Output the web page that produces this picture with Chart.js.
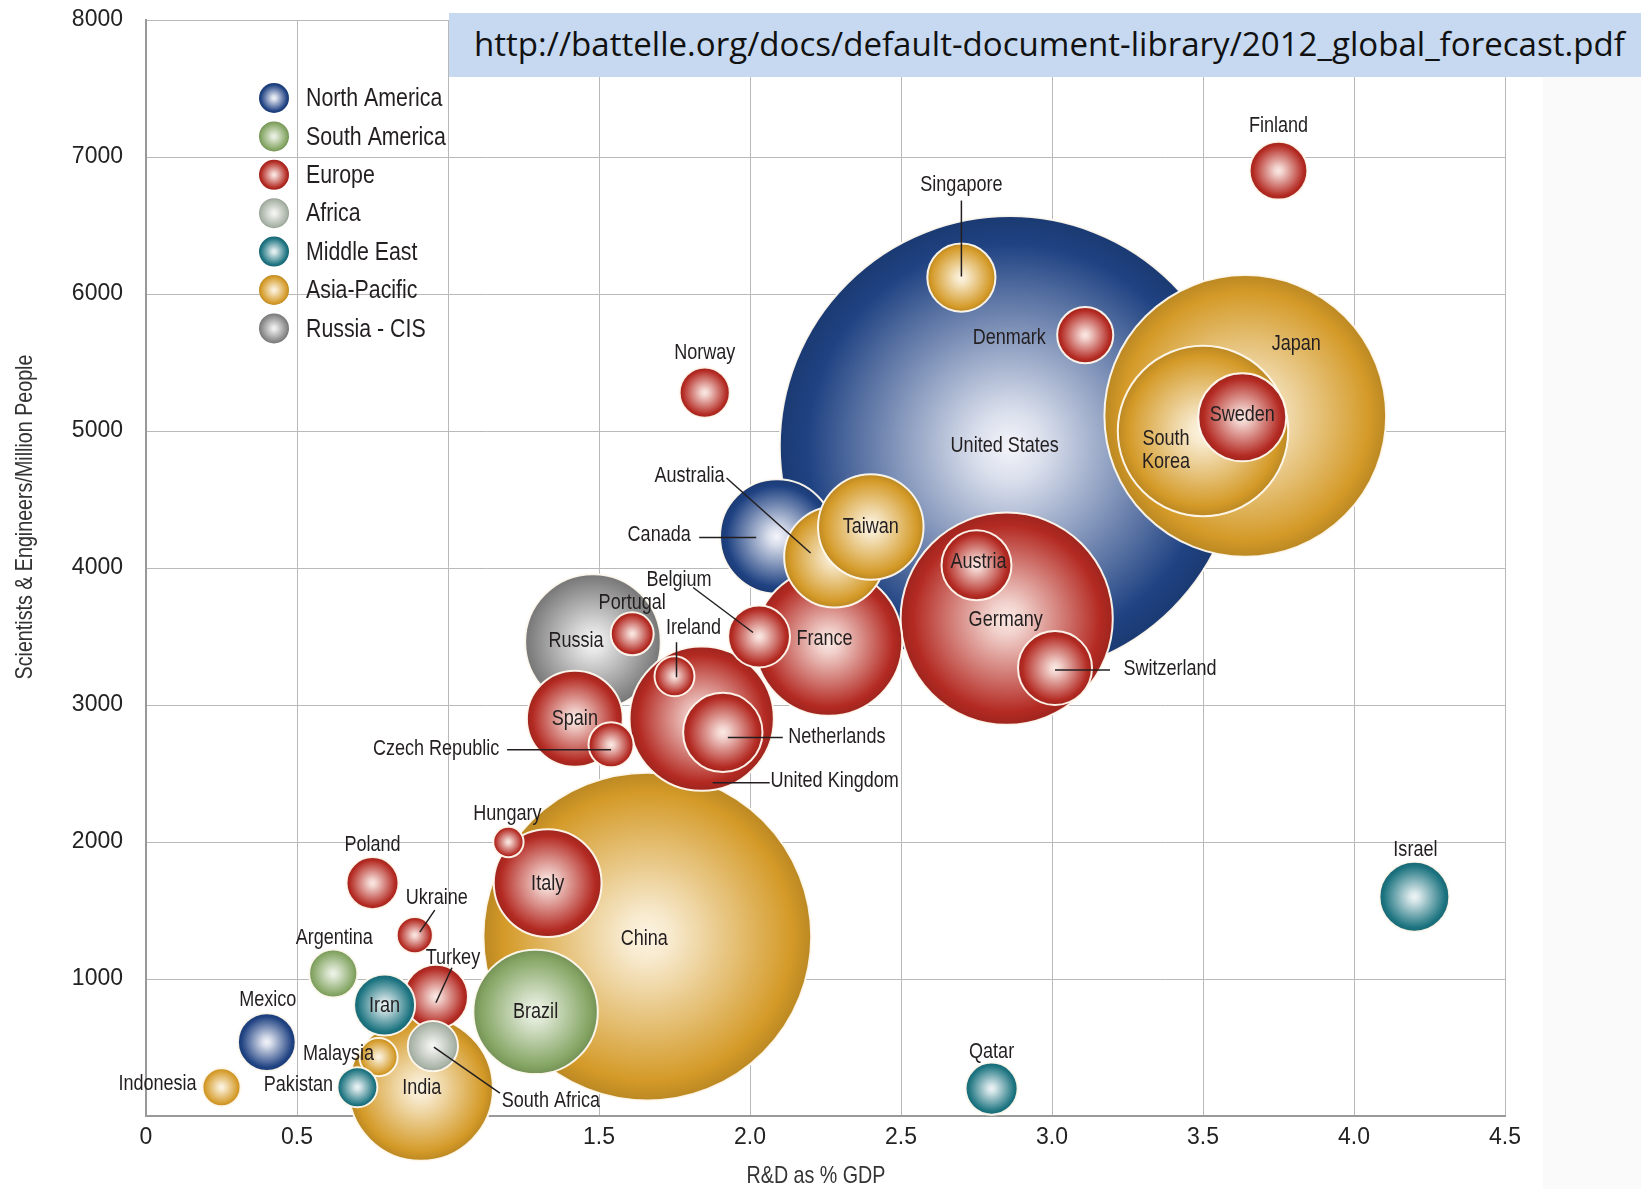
<!DOCTYPE html>
<html>
<head>
<meta charset="utf-8">
<script src="https://cdn.jsdelivr.net/npm/chart.js@4.4.0/dist/chart.umd.min.js"></script>
<style>
  body { margin: 0; background: #fff; }
  #wrap { position: relative; width: 1641px; height: 1189px; }
  #fondo { position: absolute; left: 1543px; top: 77px; width: 98px; height: 1112px; background: #fafafb; }
  #grafico { position: absolute; left: 0; top: 0; }
  #url { position: absolute; left: 449px; top: 13px; width: 1192px; height: 64px; background: #c6d9f1; }
  #url span { position: absolute; left: 25px; top: 0; line-height: 62px; font-family: 'Open Sans', 'Noto Sans', sans-serif; color: #111; white-space: nowrap; font-size: 28px; }
</style>
</head>
<body>
<div id="wrap">
  <div id="fondo"></div>
  <canvas id="grafico" width="1641" height="1189"></canvas>
  <div id="url"><span id="urlTexto">http://battelle.org/docs/default-document-library/2012_global_forecast.pdf</span></div>
</div>
<script>
// Datos (orden = orden de dibujo, del fondo al frente)
var paises = ['United States', 'China', 'Japan', 'Germany', 'South Korea', 'India', 'Russia', 'Canada',
  'France', 'United Kingdom', 'Brazil', 'Italy', 'Australia', 'Taiwan', 'Spain', 'Sweden', 'Netherlands',
  'Switzerland', 'Israel', 'Austria', 'Singapore', 'Turkey', 'Belgium', 'Iran', 'Mexico', 'Finland',
  'Denmark', 'Poland', 'Qatar', 'South Africa', 'Norway', 'Argentina', 'Czech Republic', 'Portugal',
  'Malaysia', 'Pakistan', 'Ireland', 'Indonesia', 'Ukraine', 'Hungary'];
var region = ['North America', 'Asia-Pacific', 'Asia-Pacific', 'Europe', 'Asia-Pacific', 'Asia-Pacific', 'Russia - CIS', 'North America',
  'Europe', 'Europe', 'South America', 'Europe', 'Asia-Pacific', 'Asia-Pacific', 'Europe', 'Europe', 'Europe',
  'Europe', 'Middle East', 'Europe', 'Asia-Pacific', 'Europe', 'Europe', 'Middle East', 'North America', 'Europe',
  'Europe', 'Europe', 'Middle East', 'Africa', 'Europe', 'South America', 'Europe', 'Europe',
  'Asia-Pacific', 'Middle East', 'Europe', 'Asia-Pacific', 'Europe', 'Europe'];
var rdPib = [2.86, 1.66, 3.64, 2.85, 3.50, 0.91, 1.48, 2.09,
  2.26, 1.84, 1.29, 1.33, 2.28, 2.40, 1.42, 3.63, 1.91,
  3.01, 4.20, 2.75, 2.70, 0.96, 2.03, 0.79, 0.40, 3.75,
  3.11, 0.75, 2.80, 0.95, 1.85, 0.62, 1.54, 1.61,
  0.77, 0.70, 1.75, 0.25, 0.89, 1.20];
var cientificos = [4890, 1310, 5110, 3630, 5000, 200, 3460, 4230,
  3460, 2900, 760, 1700, 4080, 4300, 2900, 5100, 2800,
  3270, 1600, 4020, 6120, 870, 3500, 810, 540, 6900,
  5700, 1700, 200, 510, 5280, 1040, 2710, 3520,
  430, 210, 3210, 210, 1320, 2000];
// gasto en I+D (miles de millones USD PPP), define el tamano de la burbuja
var gasto = [437, 222, 164, 93, 60, 43, 38, 27,
  45, 43, 32, 24, 21, 23, 19, 16, 13,
  11.3, 10.1, 10.1, 9.6, 8.5, 7.9, 7.7, 6.9, 6.9,
  6.5, 5.6, 5.6, 5.2, 5.2, 4.8, 4.2, 3.8,
  3.0, 3.3, 3.3, 3.0, 2.7, 1.9];
var regiones = ['North America', 'South America', 'Europe', 'Africa', 'Middle East', 'Asia-Pacific', 'Russia - CIS'];
var tituloX = 'R&D as % GDP';
var tituloY = 'Scientists & Engineers/Million People';

// estilos
var FUENTE = "'Liberation Sans', Arial, sans-serif";
var ANGOSTO = 0.82; // compresion horizontal (imita Helvetica Condensed)
var escalaBurbuja = 11; // px por raiz cuadrada del gasto
var colores = {
  'North America': ['#1f4282', '#f4f4fa'],
  'South America': ['#84a563', '#eef3e8'],
  'Europe': ['#b32a22', '#fbe9e4'],
  'Africa': ['#a9b3a7', '#f6f7f4'],
  'Middle East': ['#1c7480', '#eef4f6'],
  'Asia-Pacific': ['#d49a28', '#fcf4e2'],
  'Russia - CIS': ['#868686', '#f4f4f4']
};

// posicion de cada etiqueta respecto al centro de su burbuja (px), y linea guia opcional
var posEtiqueta = {
  'United States': [-5, 0], 'China': [-3, 2], 'Japan': [51, -72], 'Germany': [-1, 1],
  'South Korea': [-37, 19, null, ['South', 'Korea']], 'India': [1, -1], 'Russia': [-17, -1],
  'Canada': [-118, -2, [-78, 1, -21, 1]], 'France': [-4, -3],
  'United Kingdom': [133, 62, [11, 64, 68, 64]], 'Brazil': [0, 0], 'Italy': [0, 1],
  'Australia': [-145, -81, [-108, -79, -24, -4]], 'Taiwan': [0, 0], 'Spain': [0, 0], 'Sweden': [0, -2],
  'Netherlands': [114, 5, [5, 5, 60, 5]], 'Switzerland': [115, 1, [0, 2, 55, 2]], 'Israel': [1, -47],
  'Austria': [2, -3], 'Singapore': [0, -93, [0, -77, 0, -1]], 'Turkey': [17, -39, [16, -29, 0, 6]],
  'Belgium': [-80, -57, [-66, -49, -6, -4]], 'Iran': [0, 1], 'Mexico': [1, -42], 'Finland': [0, -45],
  'Denmark': [-76, 3], 'Poland': [0, -38], 'Qatar': [0, -37], 'South Africa': [118, 55, [1, 1, 67, 47]],
  'Norway': [0, -40], 'Argentina': [1, -36], 'Czech Republic': [-175, 4, [-104, 5, 0, 5]],
  'Portugal': [0, -31], 'Malaysia': [-40, -3], 'Pakistan': [-59, -2], 'Ireland': [19, -48, [2, -34, 2, 1]],
  'Indonesia': [-64, -3], 'Ukraine': [22, -37, [20, -25, 5, -3]], 'Hungary': [-1, -28]
};

var datos = [];
for (var i = 0; i < paises.length; i++) {
  datos.push({ x: rdPib[i], y: cientificos[i], r: escalaBurbuja * Math.sqrt(gasto[i]) });
}

function hexARgb(h) {
  return [parseInt(h.substr(1, 2), 16), parseInt(h.substr(3, 2), 16), parseInt(h.substr(5, 2), 16)];
}

function mezclar(c1, c2, t) {
  var a = hexARgb(c1), b = hexARgb(c2);
  var r = [];
  for (var k = 0; k < 3; k++) r.push(Math.round(a[k] + (b[k] - a[k]) * t));
  return 'rgb(' + r.join(',') + ')';
}

function esfera(c, x, y, r, reg) {
  var col = colores[reg];
  if (!isFinite(x) || !isFinite(y) || !isFinite(r) || r <= 0) return col[0];
  var g = c.createRadialGradient(x, y, 0, x, y, r);
  g.addColorStop(0, col[1]);
  g.addColorStop(0.15, mezclar(col[1], col[0], 0.12));
  g.addColorStop(0.55, mezclar(col[1], col[0], 0.6));
  g.addColorStop(0.88, col[0]);
  g.addColorStop(1, mezclar(col[0], '#000000', 0.12));
  return g;
}

// texto comprimido horizontalmente
function textoAngosto(c, txt, x, y) {
  c.save();
  c.translate(x, y);
  c.scale(ANGOSTO, 1);
  c.fillText(txt, 0, 0);
  c.restore();
}

// etiquetas, leyenda y titulos de ejes
var etiquetas = {
  id: 'etiquetas',
  beforeDatasetsDraw: function(chart) {
    // relleno esferico de cada burbuja, segun su posicion en pantalla
    var meta = chart.getDatasetMeta(0);
    for (var i = 0; i < meta.data.length; i++) {
      var el = meta.data[i];
      var op = Object.assign({}, el.options);
      op.backgroundColor = esfera(chart.ctx, el.x, el.y, datos[i].r, region[i]);
      el.options = op;
    }
  },
  afterDatasetsDraw: function(chart) {
    var c = chart.ctx;
    var meta = chart.getDatasetMeta(0);
    c.save();
    c.fillStyle = '#231f20';
    c.strokeStyle = '#231f20';
    c.lineWidth = 1.5;
    c.font = '22px ' + FUENTE;
    c.textAlign = 'center';
    c.textBaseline = 'middle';
    for (var i = 0; i < paises.length; i++) {
      var el = meta.data[i];
      var pos = posEtiqueta[paises[i]];
      if (pos[2]) {
        c.beginPath();
        c.moveTo(el.x + pos[2][0], el.y + pos[2][1]);
        c.lineTo(el.x + pos[2][2], el.y + pos[2][3]);
        c.stroke();
      }
      var lineas = pos[3] ? pos[3] : [paises[i]];
      for (var j = 0; j < lineas.length; j++) {
        var dy = (j - (lineas.length - 1) / 2) * 23;
        textoAngosto(c, lineas[j], el.x + pos[0], el.y + pos[1] + dy);
      }
    }

    // leyenda
    c.font = '26px ' + FUENTE;
    c.textAlign = 'left';
    for (var k = 0; k < regiones.length; k++) {
      var ly = 98 + k * 38.4;
      c.beginPath();
      c.arc(274, ly, 15, 0, Math.PI * 2);
      c.fillStyle = esfera(c, 274, ly, 15, regiones[k]);
      c.fill();
      c.fillStyle = '#231f20';
      textoAngosto(c, regiones[k], 306, ly + 1);
    }

    // titulos de ejes
    c.font = '24px ' + FUENTE;
    c.fillStyle = '#333';
    c.textAlign = 'center';
    textoAngosto(c, tituloX, 816, 1176);
    c.translate(25, 517);
    c.rotate(-Math.PI / 2);
    textoAngosto(c, tituloY, 0, 0);
    c.restore();
  }
};

Chart.defaults.font.family = FUENTE;
Chart.defaults.color = '#222';

var ctx = document.getElementById('grafico').getContext('2d');
var miGrafico = new Chart(ctx, {
  type: 'bubble',
  data: {
    datasets: [{
      label: 'Countries',
      data: datos,
      backgroundColor: function(c) { return colores[region[c.dataIndex]] ? colores[region[c.dataIndex]][0] : '#999'; },
      borderColor: 'rgba(255,250,240,0.95)',
      borderWidth: 2,
      clip: false
    }]
  },
  options: {
    responsive: false,
    animation: false,
    events: [],
    layout: { autoPadding: false, padding: { left: 0, top: 20, right: 136, bottom: 0 } },
    plugins: { legend: { display: false }, tooltip: { enabled: false } },
    scales: {
      x: {
        type: 'linear',
        min: 0,
        max: 4.5,
        afterFit: function(s) { s.height = 73; },
        ticks: {
          stepSize: 0.5,
          padding: 8,
          font: { size: 23 },
          color: '#222',
          callback: function(v) { return v === 0 ? '0' : v.toFixed(1); }
        },
        grid: { color: '#b9b9b9', drawTicks: false },
        border: { color: '#999', width: 2 }
      },
      y: {
        min: 0,
        max: 8000,
        afterFit: function(s) { s.width = 146; s.paddingTop = 10; s.paddingBottom = 10; },
        ticks: {
          stepSize: 1000,
          padding: 23,
          font: { size: 23 },
          color: '#222',
          callback: function(v) { return v === 0 ? '' : String(v); }
        },
        grid: { color: '#b9b9b9', drawTicks: false },
        border: { color: '#999', width: 2 }
      }
    }
  },
  plugins: [etiquetas]
});

// ajustar el tamano del texto de la url al ancho del recuadro
var span = document.getElementById('urlTexto');
var tam = 28;
span.style.fontSize = tam + 'px';
var ancho = span.getBoundingClientRect().width;
if (ancho > 0) {
  tam = tam * 1151 / ancho;
  span.style.fontSize = tam.toFixed(1) + 'px';
}
</script>
</body>
</html>
